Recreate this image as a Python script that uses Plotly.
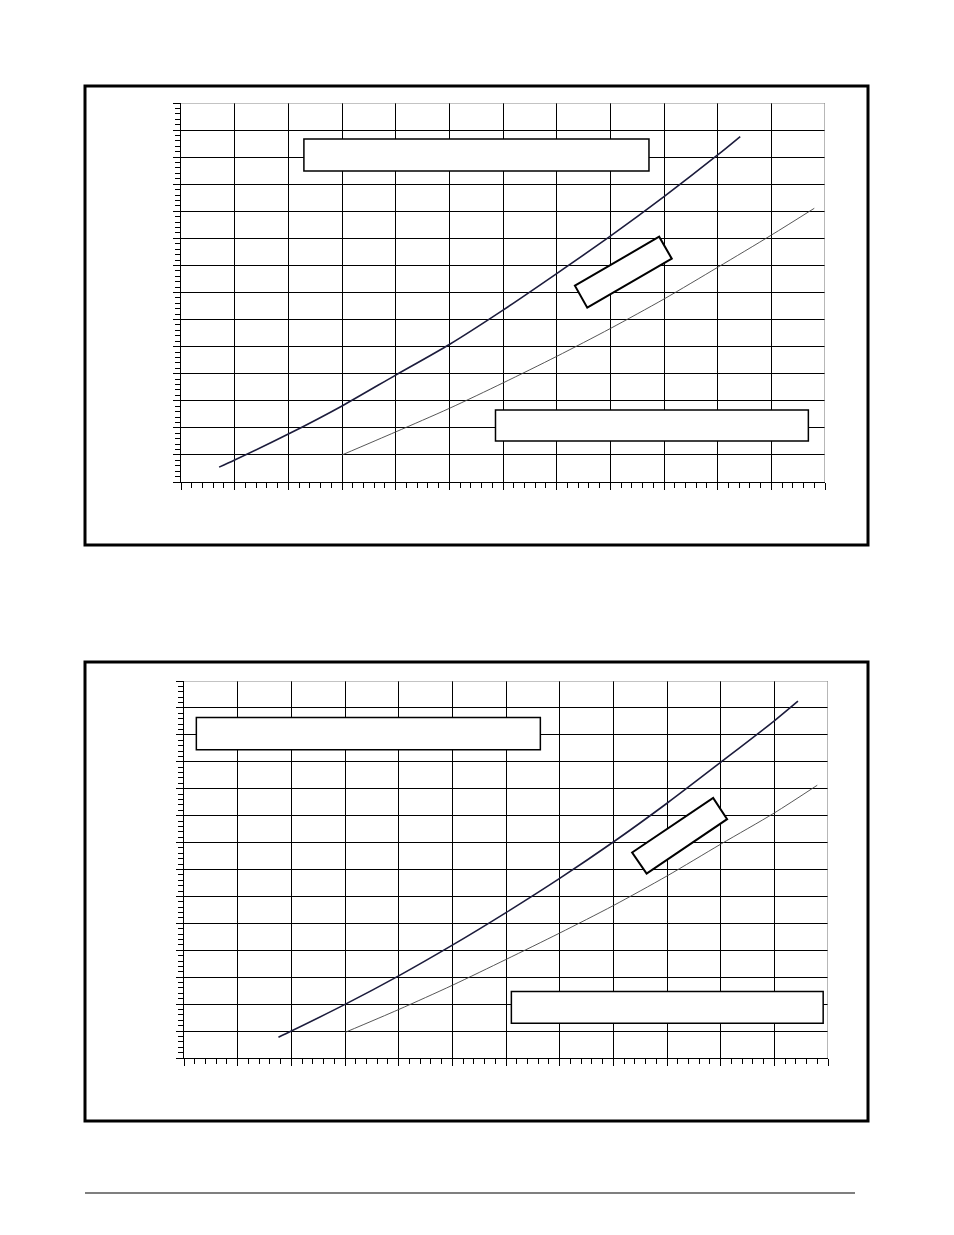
import plotly.graph_objects as go

# page is 954x1235, body keeps its default 8px margin
W, H = 946, 1227
PAD = 8

# top chart curves
top_upper_x = [0.71, 1, 2, 3, 4, 5, 6, 7, 8, 9, 10, 10.42]
top_upper_y = [0.55, 0.81, 1.77, 2.81, 3.95, 5.08, 6.35, 7.70, 9.08, 10.54, 12.08, 12.76]
top_lower_x = [3.0, 4, 5, 6, 7, 8, 9, 10, 11, 11.8]
top_lower_y = [1.0, 1.85, 2.72, 3.66, 4.64, 5.67, 6.76, 7.93, 9.12, 10.11]

# bottom chart curves
bot_upper_x = [1.76, 2, 3, 4, 5, 6, 7, 8, 9, 10, 11, 11.44]
bot_upper_y = [0.77, 1.0, 1.99, 3.05, 4.19, 5.40, 6.67, 8.02, 9.46, 10.98, 12.52, 13.25]
bot_lower_x = [3.0, 4, 5, 6, 7, 8, 9, 10, 11, 11.8]
bot_lower_y = [0.95, 1.80, 2.70, 3.66, 4.64, 5.66, 6.76, 7.94, 9.10, 10.13]

x_range = [0, 12]
y_range = [0, 14]


def px_x(p):
    return (p - PAD) / W


def px_y(p):
    return 1 - (p - PAD) / H


fig = go.Figure()

for xs, ys, xa, ya in [(top_upper_x, top_upper_y, 'x', 'y'), (bot_upper_x, bot_upper_y, 'x2', 'y2')]:
    fig.add_trace(go.Scatter(x=xs, y=ys, xaxis=xa, yaxis=ya, mode='lines',
                             line=dict(color='#1c1c3c', width=1.6, shape='spline', smoothing=0.8),
                             showlegend=False, hoverinfo='skip'))
for xs, ys, xa, ya in [(top_lower_x, top_lower_y, 'x', 'y'), (bot_lower_x, bot_lower_y, 'x2', 'y2')]:
    fig.add_trace(go.Scatter(x=xs, y=ys, xaxis=xa, yaxis=ya, mode='lines',
                             line=dict(color='#444444', width=0.9, shape='spline', smoothing=0.8),
                             showlegend=False, hoverinfo='skip'))

axis_common = dict(
    range=x_range, dtick=1, showgrid=True, gridcolor='black', gridwidth=1.4,
    showline=True, linecolor='black', linewidth=1.4, zeroline=False,
    showticklabels=False, ticks='outside', ticklen=7, tickwidth=1.3, tickcolor='black',
    minor=dict(dtick=0.2, ticks='outside', ticklen=5, tickwidth=1.2, tickcolor='black', showgrid=False),
    fixedrange=True,
)
yaxis_common = dict(axis_common, range=y_range)

fig.update_layout(
    width=W, height=H,
    margin=dict(l=0, r=0, t=0, b=0),
    paper_bgcolor='white', plot_bgcolor='white',
    xaxis=dict(axis_common, domain=[px_x(181), px_x(825)], anchor='y'),
    yaxis=dict(yaxis_common, domain=[px_y(482), px_y(103)], anchor='x'),
    xaxis2=dict(axis_common, domain=[px_x(184), px_x(828)], anchor='y2'),
    yaxis2=dict(yaxis_common, domain=[px_y(1058), px_y(681)], anchor='x2'),
)

shapes = []

# outer frames and footer rule
for top, bottom in [(86, 545), (662, 1121)]:
    shapes.append(dict(type='rect', xref='paper', yref='paper',
                       x0=px_x(85), x1=px_x(868), y0=px_y(bottom), y1=px_y(top),
                       line=dict(color='black', width=3), fillcolor='rgba(0,0,0,0)'))
shapes.append(dict(type='line', xref='paper', yref='paper',
                   x0=px_x(85), x1=px_x(855), y0=px_y(1193), y1=px_y(1193),
                   line=dict(color='black', width=1.2)))

# gray top / right plot edges
for xa, ya in [('x', 'y'), ('x2', 'y2')]:
    shapes.append(dict(type='line', xref=xa, yref=ya, x0=0, x1=12, y0=14, y1=14,
                       line=dict(color='#888888', width=1.2)))
    shapes.append(dict(type='line', xref=xa, yref=ya, x0=12, x1=12, y0=0, y1=14,
                       line=dict(color='#888888', width=1.2)))

# empty label boxes
boxes = [
    ('x', 'y', 2.29, 8.72, 11.49, 12.67),
    ('x', 'y', 5.86, 11.69, 1.51, 2.66),
    ('x2', 'y2', 0.23, 6.64, 11.45, 12.64),
    ('x2', 'y2', 6.10, 11.91, 1.29, 2.47),
]
for xa, ya, x0, x1, y0, y1 in boxes:
    shapes.append(dict(type='rect', xref=xa, yref=ya, x0=x0, x1=x1, y0=y0, y1=y1,
                       line=dict(color='black', width=1.5), fillcolor='white'))

tilted = [
    ('x', 'y', 'M 7.34,7.25 L 8.91,9.06 L 9.145,8.25 L 7.57,6.44 Z'),
    ('x2', 'y2', 'M 8.35,7.63 L 9.86,9.66 L 10.12,8.87 L 8.62,6.85 Z'),
]
for xa, ya, path in tilted:
    shapes.append(dict(type='path', xref=xa, yref=ya, path=path,
                       line=dict(color='black', width=2), fillcolor='white'))

fig.update_layout(shapes=shapes)

fig.write_html("out.html")
